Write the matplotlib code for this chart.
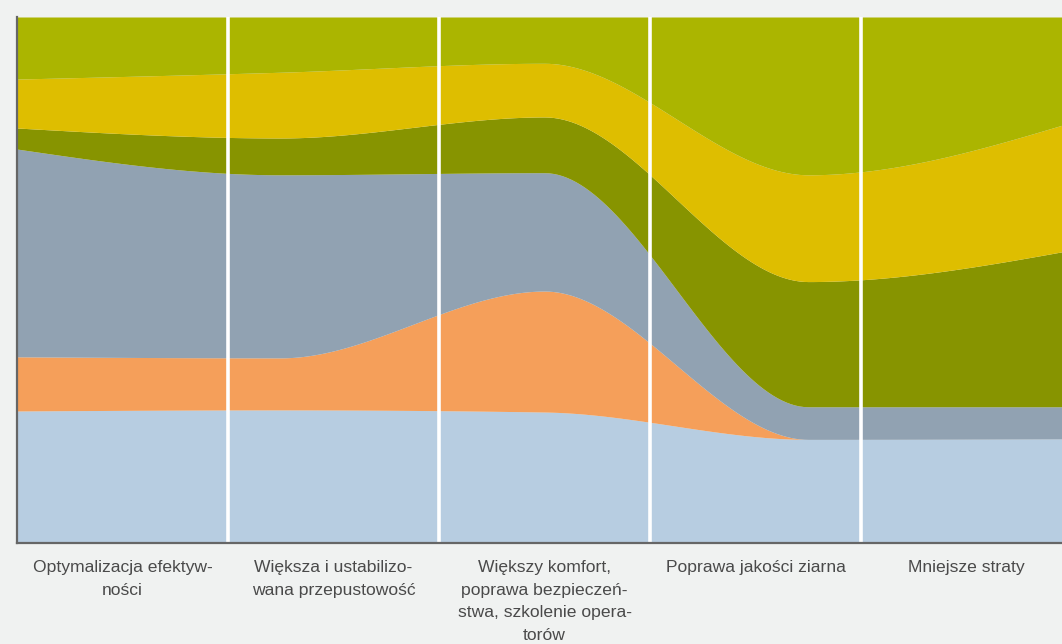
import numpy as np
import matplotlib
matplotlib.use("Agg")
import matplotlib.pyplot as plt

# ---- data (percent shares) ----
categories = [
    "Optymalizacja efektyw-\nności",
    "Większa i ustabilizo-\nwana przepustowość",
    "Większy komfort,\npoprawa bezpieczeń-\nstwa, szkolenie opera-\ntorów",
    "Poprawa jakości ziarna",
    "Mniejsze straty",
]
s_lightblue = [25.1, 25.3, 24.9, 19.7, 19.8]
s_orange    = [10.3, 9.9, 23.0, 0.0, 0.0]
s_gray      = [39.5, 34.8, 22.5, 6.2, 6.1]
s_darkgreen = [4.0, 7.0, 10.6, 23.8, 29.8]
s_yellow    = [9.3, 12.5, 10.2, 20.3, 24.3]
s_green     = [11.8, 10.5, 8.8, 30.0, 20.0]

series = [s_lightblue, s_orange, s_gray, s_darkgreen, s_yellow, s_green]
colors = ["#b7cde1", "#f59f5a", "#91a2b2", "#879400", "#debe00", "#abb500"]


def monotone_x(xs, ys, n=60):
    """d3.curveMonotoneX style interpolation (cubic Hermite via Steffen slopes)."""
    xs = np.asarray(xs, float)
    ys = np.asarray(ys, float)
    m = len(xs)
    t = np.zeros(m)
    for i in range(1, m - 1):
        h0 = xs[i] - xs[i - 1]
        h1 = xs[i + 1] - xs[i]
        s0 = (ys[i] - ys[i - 1]) / h0
        s1 = (ys[i + 1] - ys[i]) / h1
        p = (s0 * h1 + s1 * h0) / (h0 + h1)
        t[i] = (np.sign(s0) + np.sign(s1)) * min(abs(s0), abs(s1), 0.5 * abs(p))
    h = xs[1] - xs[0]
    t[0] = (3 * (ys[1] - ys[0]) / h - t[1]) / 2
    h = xs[-1] - xs[-2]
    t[-1] = (3 * (ys[-1] - ys[-2]) / h - t[-2]) / 2
    X, Y = [], []
    for i in range(m - 1):
        dx = xs[i + 1] - xs[i]
        u = np.linspace(0, 1, n)
        h00 = 2 * u**3 - 3 * u**2 + 1
        h10 = u**3 - 2 * u**2 + u
        h01 = -2 * u**3 + 3 * u**2
        h11 = u**3 - u**2
        X.append(xs[i] + u * dx)
        Y.append(h00 * ys[i] + h10 * dx * t[i] + h01 * ys[i + 1] + h11 * dx * t[i + 1])
    return np.concatenate(X), np.concatenate(Y)


W, H = 1062, 644
fig = plt.figure(figsize=(W / 100, H / 100), dpi=100)
fig.patch.set_facecolor("#f0f2f1")

left_px, right_px, top_px, bot_px = 17, 1072, 17, 543
ax = fig.add_axes([left_px / W, (H - bot_px) / H,
                   (right_px - left_px) / W, (bot_px - top_px) / H])
ax.set_facecolor("#f0f2f1")

xpos = np.arange(len(categories))
ax.set_xlim(0, len(categories) - 1)
ax.set_ylim(0, 100)

cum = np.zeros(len(xpos))
for vals, col in zip(series, colors):
    lower = cum.copy()
    upper = cum + np.asarray(vals, float)
    xl, yl = monotone_x(xpos, lower)
    xu, yu = monotone_x(xpos, upper)
    ax.fill_between(xu, yl, yu, color=col, lw=0, zorder=2)
    cum = upper

# separators between category bands
band = (len(categories) - 1) / len(categories)
for i in range(1, len(categories)):
    ax.axvline(i * band, color="white", lw=2.6, zorder=3)

for i, lab in enumerate(categories):
    ax.text((i + 0.5) * band, -3.3, lab, ha="center", va="top",
            fontsize=12.6, color="#4a4a4a", family=["Liberation Sans", "DejaVu Sans"],
            linespacing=1.62, transform=ax.transData, clip_on=False)

for side in ["top", "right"]:
    ax.spines[side].set_visible(False)
for side in ["left", "bottom"]:
    ax.spines[side].set_color("#666666")
    ax.spines[side].set_linewidth(1.6)
    ax.spines[side].set_zorder(4)
ax.set_xticks([])
ax.set_yticks([])

fig.savefig("out.png", dpi=100, facecolor=fig.get_facecolor())
